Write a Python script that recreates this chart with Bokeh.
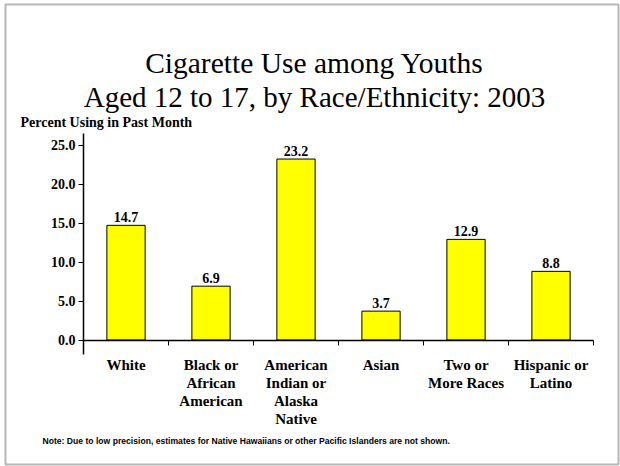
from bokeh.plotting import figure
from bokeh.models import (Range1d, LinearAxis, FixedTicker, NumeralTickFormatter,
                          Label, ColumnDataSource, BoxAnnotation)
from bokeh.core.properties import value
from bokeh.embed import file_html
from bokeh.resources import INLINE

# ---- data ----
categories = ["White", "Black or\nAfrican\nAmerican", "American\nIndian or\nAlaska\nNative",
              "Asian", "Two or\nMore Races", "Hispanic or\nLatino"]
percent_past_month = [14.7, 6.9, 23.2, 3.7, 12.9, 8.8]
y_ticks = [0, 5, 10, 15, 20, 25]
title_lines = ["Cigarette Use among Youths", "Aged 12 to 17, by Race/Ethnicity: 2003"]
y_title = "Percent Using in Past Month"
note = "Note: Due to low precision, estimates for Native Hawaiians or other Pacific Islanders are not shown."

SERIF = "Liberation Serif, Times New Roman, DejaVu Serif, serif"
SANS = "Liberation Sans, Arial, sans-serif"

n = len(categories)
centers = [i + 0.5 for i in range(n)]
bounds = list(range(n + 1))

W, H = 620, 466
# pixel geometry of the plot area (canvas pixels)
X0, PX_X = 83.0, 85.0      # x of category 0 boundary, px per category
Y0, PX_Y = 339.5, 7.8      # y of value 0, px per percent

p = figure(width=W, height=H, output_backend="svg", toolbar_location=None,
           x_range=Range1d(-X0 / PX_X, (W - X0) / PX_X),
           y_range=Range1d(-(H - Y0) / PX_Y, Y0 / PX_Y),
           min_border=0, x_axis_location=None, y_axis_location=None)
p.xgrid.visible = False
p.ygrid.visible = False
p.outline_line_color = None
p.background_fill_color = "white"
p.border_fill_color = "white"

src = ColumnDataSource(dict(x=centers, top=percent_past_month,
                            label=[f"{v:.1f}" for v in percent_past_month],
                            cat=categories))
p.vbar(x="x", top="top", bottom=0, width=0.45, source=src,
       fill_color="#FFFF00", line_color="#000000", line_width=1)
p.text(x="x", y="top", text="label", source=src, text_align="center",
       text_baseline="alphabetic", y_offset=-8, text_font=value(SERIF),
       text_font_style="bold", text_font_size="14px", text_color="black")

# category labels under the axis
p.text(x="x", y=0, text="cat", source=src, text_align="center",
       text_baseline="top", y_offset=17, text_font=value(SERIF),
       text_font_style="bold", text_font_size="15px", text_color="black",
       text_line_height=1.13)

# y axis
yax = LinearAxis(ticker=FixedTicker(ticks=y_ticks), formatter=NumeralTickFormatter(format="0.0"),
                 fixed_location=0, bounds=(-1.9, 26.5))
yax.axis_line_color = "black"
yax.axis_line_width = 1.5
yax.major_tick_out = 5
yax.major_tick_in = 0
yax.major_tick_line_width = 1
yax.minor_tick_line_color = None
yax.major_label_standoff = 3
yax.major_label_text_font = SERIF
yax.major_label_text_font_style = "bold"
yax.major_label_text_font_size = "14px"
yax.major_label_text_color = "black"
p.add_layout(yax, "left")

# x axis line at zero with boundary ticks (no tick labels)
xax0 = LinearAxis(ticker=FixedTicker(ticks=bounds), fixed_location=0, bounds=(0, n),
                  major_label_overrides={b: "" for b in bounds})
xax0.axis_line_color = "black"
xax0.axis_line_width = 1.5
xax0.major_tick_out = 5
xax0.major_tick_in = 0
xax0.minor_tick_line_color = None
p.add_layout(xax0, "below")

# texts (screen units: from canvas bottom-left)
p.add_layout(Label(x=314, y=H - 62, x_units="screen", y_units="screen", text=title_lines[0],
                   text_align="center", text_baseline="alphabetic", text_font=SERIF,
                   text_font_size="29.5px", text_color="black"))
p.add_layout(Label(x=314, y=H - 96, x_units="screen", y_units="screen", text=title_lines[1],
                   text_align="center", text_baseline="alphabetic", text_font=SERIF,
                   text_font_size="29px", text_color="black"))
p.add_layout(Label(x=20, y=H - 122, x_units="screen", y_units="screen", text=y_title,
                   text_align="left", text_baseline="alphabetic", text_font=SERIF,
                   text_font_style="bold", text_font_size="14px", text_color="black"))
p.add_layout(Label(x=42, y=H - 440, x_units="screen", y_units="screen", text=note,
                   text_align="left", text_baseline="alphabetic", text_font=SANS,
                   text_font_style="bold", text_font_size="8.6px", text_color="black"))

# slide border
p.add_layout(BoxAnnotation(left=5, right=618, bottom=2, top=H - 4,
                           left_units="screen", right_units="screen",
                           top_units="screen", bottom_units="screen",
                           fill_color=None, line_color="#111111", line_width=2))

open("out.html", "w").write(file_html(p, INLINE))
